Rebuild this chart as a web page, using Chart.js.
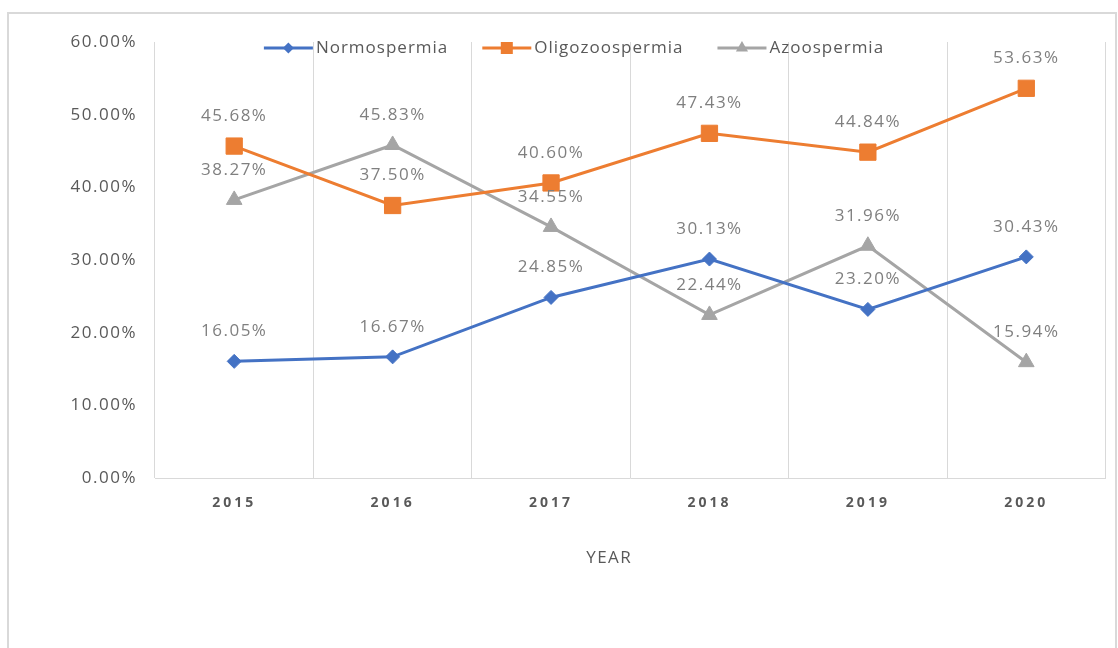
<!DOCTYPE html>
<html>
<head>
<meta charset="utf-8">
<script src="https://cdn.jsdelivr.net/npm/chart.js@4.4.1/dist/chart.umd.min.js"></script>
<style>
    html, body { margin: 0; padding: 0; background: #fff; }
    .frame { position: absolute; left: 7px; top: 12px; width: 1110px; height: 660px; border: 2px solid #d9d9d9; box-sizing: border-box; }
    #wrap { position: absolute; left: 0; top: 0; width: 1118px; height: 648px; }
</style>
</head>
<body>
<div class="frame"></div>
<div id="wrap"><canvas id="chart"></canvas></div>
<script>
const years = ['2015', '2016', '2017', '2018', '2019', '2020'];
const normospermia = [16.05, 16.67, 24.85, 30.13, 23.20, 30.43];
const oligozoospermia = [45.68, 37.50, 40.60, 47.43, 44.84, 53.63];
const azoospermia = [38.27, 45.83, 34.55, 22.44, 31.96, 15.94];
const xTitle = 'YEAR';

const FONT = '"Open Sans", sans-serif';

// espacement des lettres : texte un peu aéré, années (dessinées après les datasets) plus espacées
const letterSpacing = {
    id: 'letterSpacing',
    beforeDraw(chart) { chart.ctx.letterSpacing = '1.5px'; },
    afterDatasetsDraw(chart) { chart.ctx.letterSpacing = '3px'; },
    afterDraw(chart) { chart.ctx.letterSpacing = '1.5px'; }
};

// légende façon Excel : trait + marqueur
const lineLegend = {
    id: 'lineLegend',
    afterDraw(chart) {
        const ctx = chart.ctx;
        const items = chart.data.datasets;
        const lineW = 49, gap = 3, itemGap = 34, y = 48;
        ctx.save();
        ctx.letterSpacing = '1px';
        ctx.font = '17px ' + FONT;
        ctx.textBaseline = 'middle';
        ctx.textAlign = 'left';
        const widths = items.map(ds => lineW + gap + ctx.measureText(ds.label).width);
        const total = widths.reduce((a, b) => a + b, 0) + itemGap * (items.length - 1);
        let x = chart.width / 2 + 15 - total / 2;
        items.forEach((ds, i) => {
            ctx.strokeStyle = ds.borderColor;
            ctx.lineWidth = 3;
            ctx.beginPath();
            ctx.moveTo(x, y);
            ctx.lineTo(x + lineW, y);
            ctx.stroke();
            ctx.fillStyle = ds.backgroundColor;
            Chart.helpers.drawPoint(ctx, {
                pointStyle: ds.pointStyle, radius: ds.legendRadius, rotation: 0, borderWidth: 0
            }, x + lineW / 2, y);
            ctx.fillStyle = '#595959';
            ctx.fillText(ds.label, x + lineW + gap, y);
            x += widths[i] + itemGap;
        });
        ctx.restore();
    }
};

// valeurs au-dessus des points + titre de l'axe x
const pointLabels = {
    id: 'pointLabels',
    afterDraw(chart) {
        const ctx = chart.ctx;
        const area = chart.chartArea;
        ctx.save();
        ctx.font = '17px ' + FONT;
        ctx.fillStyle = '#7f7f7f';
        ctx.textAlign = 'center';
        ctx.textBaseline = 'middle';
        chart.data.datasets.forEach((ds, i) => {
            chart.getDatasetMeta(i).data.forEach((pt, j) => {
                ctx.fillText(ds.data[j].toFixed(2) + '%', pt.x, pt.y - 30);
            });
        });
        ctx.fillStyle = '#595959';
        ctx.fillText(xTitle, (area.left + area.right) / 2 - 21, area.bottom + 80);
        ctx.restore();
    }
};

new Chart(document.getElementById('chart'), {
    type: 'line',
    data: {
        labels: years,
        datasets: [{
            label: 'Normospermia',
            data: normospermia,
            borderColor: '#4472C4',
            backgroundColor: '#4472C4',
            pointStyle: 'rectRot',
            pointRadius: 7,
            legendRadius: 5.5,
            borderWidth: 3,
            pointBorderWidth: 1
        }, {
            label: 'Oligozoospermia',
            data: oligozoospermia,
            borderColor: '#ED7D31',
            backgroundColor: '#ED7D31',
            pointStyle: 'rect',
            pointRadius: 11.5,
            legendRadius: 8.5,
            borderWidth: 3,
            pointBorderWidth: 1
        }, {
            label: 'Azoospermia',
            data: azoospermia,
            borderColor: '#A5A5A5',
            backgroundColor: '#A5A5A5',
            pointStyle: 'triangle',
            pointRadius: 9,
            legendRadius: 7,
            borderWidth: 3,
            pointBorderWidth: 1
        }]
    },
    options: {
        responsive: true,
        maintainAspectRatio: false,
        animation: false,
        layout: { padding: { top: 42, right: 12, left: 0, bottom: 0 } },
        plugins: {
            legend: { display: false },
            tooltip: { enabled: false }
        },
        scales: {
            x: {
                offset: true,
                grid: { offset: true, color: '#d9d9d9', drawTicks: false },
                border: { color: '#d9d9d9' },
                ticks: { color: '#595959', font: { family: FONT, size: 14, weight: 'bold' }, padding: 17, z: 1 },
                afterFit: (scale) => { scale.height = 170; }
            },
            y: {
                min: 0,
                max: 60,
                ticks: {
                    stepSize: 10,
                    padding: 10,
                    color: '#595959',
                    font: { family: FONT, size: 17 },
                    callback: (v) => v.toFixed(2) + '%'
                },
                grid: { display: false },
                border: { display: false },
                afterFit: (scale) => { scale.width = 155; }
            }
        }
    },
    plugins: [letterSpacing, lineLegend, pointLabels]
});
</script>
</body>
</html>
